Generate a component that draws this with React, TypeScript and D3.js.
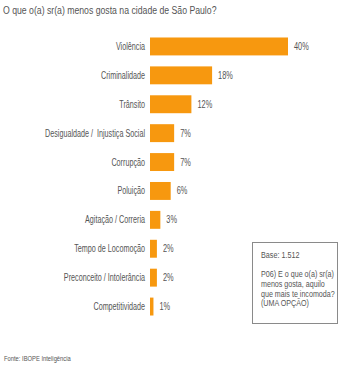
import React from "react";
import * as d3 from "d3";

const categories = [
  "Violência",
  "Criminalidade",
  "Trânsito",
  "Desigualdade /  Injustiça Social",
  "Corrupção",
  "Poluição",
  "Agitação / Correria",
  "Tempo de Locomoção",
  "Preconceito / Intolerância",
  "Competitividade",
];
const values = [40, 18, 12, 7, 7, 6, 3, 2, 2, 1];
const title = "O que o(a) sr(a) menos gosta na cidade de São Paulo?";
const source = "Fonte: IBOPE Inteligência";
const noteBase = "Base: 1.512";
const noteLines = ["P06) E o que o(a) sr(a)", "menos gosta, aquilo", "que mais te incomoda?", "(UMA OPÇÃO)"];

const W = 358;
const H = 379;
const FONT = "'Liberation Sans', Arial, sans-serif";
const ORANGE = "#f7980f";
const TEXT = "#555555";

function T(props: { x: number; y: number; size: number; sx: number; anchor?: string; dy?: string; children: React.ReactNode }) {
  const { x, y, size, sx, anchor, dy, children } = props;
  return (
    <text
      transform={`translate(${x},${y}) scale(${sx},1)`}
      fontSize={size}
      fill={TEXT}
      textAnchor={anchor || "start"}
      dy={dy}
      style={{ whiteSpace: "pre" }}
    >
      {children}
    </text>
  );
}

export default function App() {
  const y = d3.scaleBand<string>().domain(categories).range([32, 321]).paddingInner(0.38).paddingOuter(0.19);
  const x = d3.scaleLinear().domain([0, 40]).range([150, 288]);
  return (
    <svg width={W} height={H} style={{ position: "absolute", left: 0, top: 0, background: "#fff" }} fontFamily={FONT}>
      <T x={3} y={14} size={10} sx={0.87}>{title}</T>
      {categories.map((c, i) => {
        const yy = y(c)!;
        const bw = y.bandwidth();
        return (
          <g key={c}>
            <T x={145} y={yy + bw / 2} dy="0.35em" anchor="end" size={10} sx={0.72}>{c}</T>
            <rect x={x(0)} y={yy} width={x(values[i]) - x(0)} height={bw} fill={ORANGE} />
            <T x={x(values[i]) + 6} y={yy + bw / 2} dy="0.35em" size={10} sx={0.74}>{values[i]}%</T>
          </g>
        );
      })}
      <rect x={252.5} y={242.5} width={85} height={81} fill="none" stroke="#8a8a8a" strokeWidth={1} />
      <T x={261} y={258} size={9.5} sx={0.76}>{noteBase}</T>
      {noteLines.map((l, i) => (
        <T key={l} x={261} y={277 + i * 9.8} size={8.6} sx={0.83}>{l}</T>
      ))}
      <T x={4} y={361} size={7} sx={0.83}>{source}</T>
    </svg>
  );
}
